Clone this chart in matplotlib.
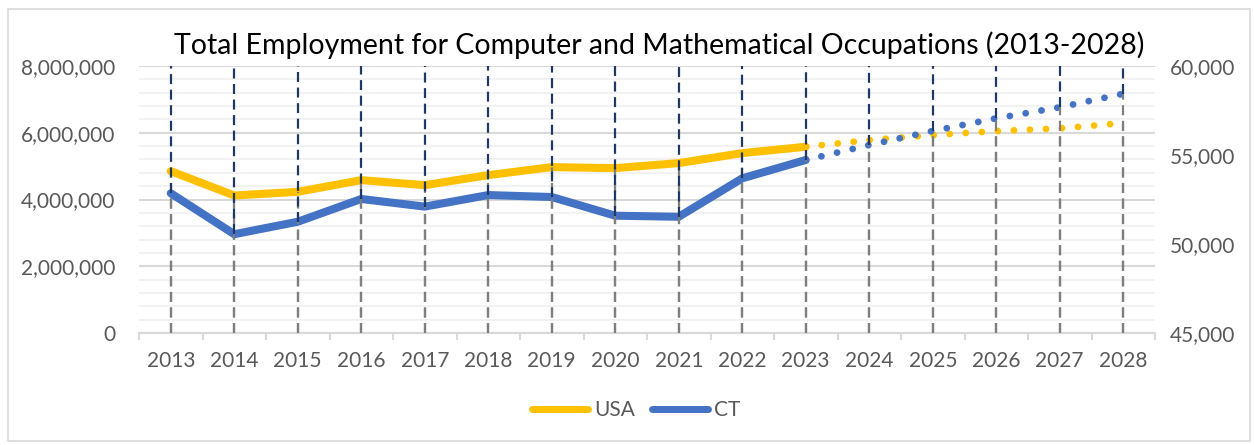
import numpy as np
import matplotlib.pyplot as plt
from matplotlib.patches import Rectangle
from matplotlib.lines import Line2D

plt.rcParams["font.family"] = ["Lato", "DejaVu Sans"]

years = [2013, 2014, 2015, 2016, 2017, 2018, 2019, 2020, 2021, 2022, 2023,
         2024, 2025, 2026, 2027, 2028]

# actual values 2013-2023
usa = [4850000, 4120000, 4230000, 4580000, 4430000, 4730000, 4970000,
       4940000, 5090000, 5390000, 5580000]
ct = [52850, 50550, 51250, 52530, 52100, 52750, 52640, 51590, 51530,
      53690, 54720]

# projected values 2023-2028
usa_proj = [5580000, 5780000, 5930000, 6050000, 6130000, 6290000]
ct_proj = [54720, 55560, 56350, 57060, 57680, 58440]

YELLOW = "#FFC000"
BLUE = "#4472C4"
NAVY = "#203864"
DGRAY = "#7F7F7F"
TXT = "#595959"

x = np.arange(len(years))
xa = x[:len(usa)]
xp = x[len(usa) - 1:]
usa_all = usa + usa_proj[1:]
ct_all = ct + ct_proj[1:]

fig = plt.figure(figsize=(12.54, 4.45), dpi=100)
ax = fig.add_axes([139 / 1254, 112 / 445, 1016 / 1254, 267 / 445])
ax2 = ax.twinx()

ax.set_xlim(-0.5, len(years) - 0.5)
ax.set_ylim(0, 8000000)
ax2.set_ylim(45000, 60000)

# gridlines
ax.set_yticks(np.arange(0, 8000001, 2000000))
ax.set_yticks(np.arange(0, 8000001, 400000), minor=True)
ax.yaxis.grid(True, which="minor", color="#F2F2F2", lw=1.5, zorder=0)
ax.yaxis.grid(True, which="major", color="#D9D9D9", lw=1.5, zorder=0)
ax.set_axisbelow(True)
ax.set_yticklabels([f"{int(v):,}" for v in ax.get_yticks()])
ax.tick_params(axis="y", which="both", length=0, pad=17, labelsize=15,
               labelcolor=TXT)

ax2.set_yticks(np.arange(45000, 60001, 5000))
ax2.set_yticklabels([f"{int(v):,}" for v in ax2.get_yticks()])
ax2.tick_params(axis="y", length=0, pad=11, labelsize=15, labelcolor=TXT)

# category axis: ticks between categories, labels at centres
ax.set_xticks(np.arange(-0.5, len(years), 1))
ax.set_xticklabels([])
ax.set_xticks(x, [str(y) for y in years], minor=True)
ax.tick_params(axis="x", which="major", length=5, width=1.5, color="#D9D9D9")
ax.tick_params(axis="x", which="minor", length=0, pad=13, labelsize=15,
               labelcolor=TXT)

for a in (ax, ax2):
    for s in ("top", "left", "right"):
        a.spines[s].set_visible(False)
    a.spines["bottom"].set_color("#D9D9D9")
    a.spines["bottom"].set_linewidth(1.5)

# lines
ax.plot(xa, usa, color=YELLOW, lw=5.8, solid_capstyle="round",
        solid_joinstyle="round", zorder=3)
ax.plot(xp, usa_proj, color=YELLOW, lw=4.9, linestyle=(0, (0.01, 2.35)),
        dash_capstyle="round", zorder=3)
ax2.plot(xa, ct, color=BLUE, lw=5.8, solid_capstyle="round",
         solid_joinstyle="round", zorder=3)
ax2.plot(xp, ct_proj, color=BLUE, lw=4.9, linestyle=(0, (0.01, 2.35)),
         dash_capstyle="round", zorder=3)

# drop lines
dash = (0, (4.5, 2.5))
ax.vlines(x, 0, usa_all, color=DGRAY, lw=1.6, linestyles=[dash], zorder=4)
ax2.vlines(x, 45000, ct_all, color=DGRAY, lw=1.6, linestyles=[dash], zorder=4)
ax2.vlines(x, ct_all, 60000, color=NAVY, lw=1.6, linestyles=[dash], zorder=5)

fig.text(659 / 1254, 1 - 45 / 445,
         "Total Employment for Computer and Mathematical Occupations (2013-2028)",
         ha="center", va="center", fontsize=20.5, color="black")

handles = [Line2D([], [], color=YELLOW, lw=5, solid_capstyle="round"),
           Line2D([], [], color=BLUE, lw=5, solid_capstyle="round")]
fig.legend(handles, ["USA", "CT"], loc="center", ncol=2, frameon=False,
           bbox_to_anchor=(636 / 1254, 1 - 410 / 445), fontsize=15,
           labelcolor=TXT, handlelength=2.7, handletextpad=0.3,
           columnspacing=0.8)

fig.patches.append(Rectangle((8 / 1254, 4 / 445), 1242 / 1254, 432 / 445,
                             transform=fig.transFigure, fill=False,
                             edgecolor="#D9D9D9", lw=1.2))

fig.savefig("out.png", dpi=100)
